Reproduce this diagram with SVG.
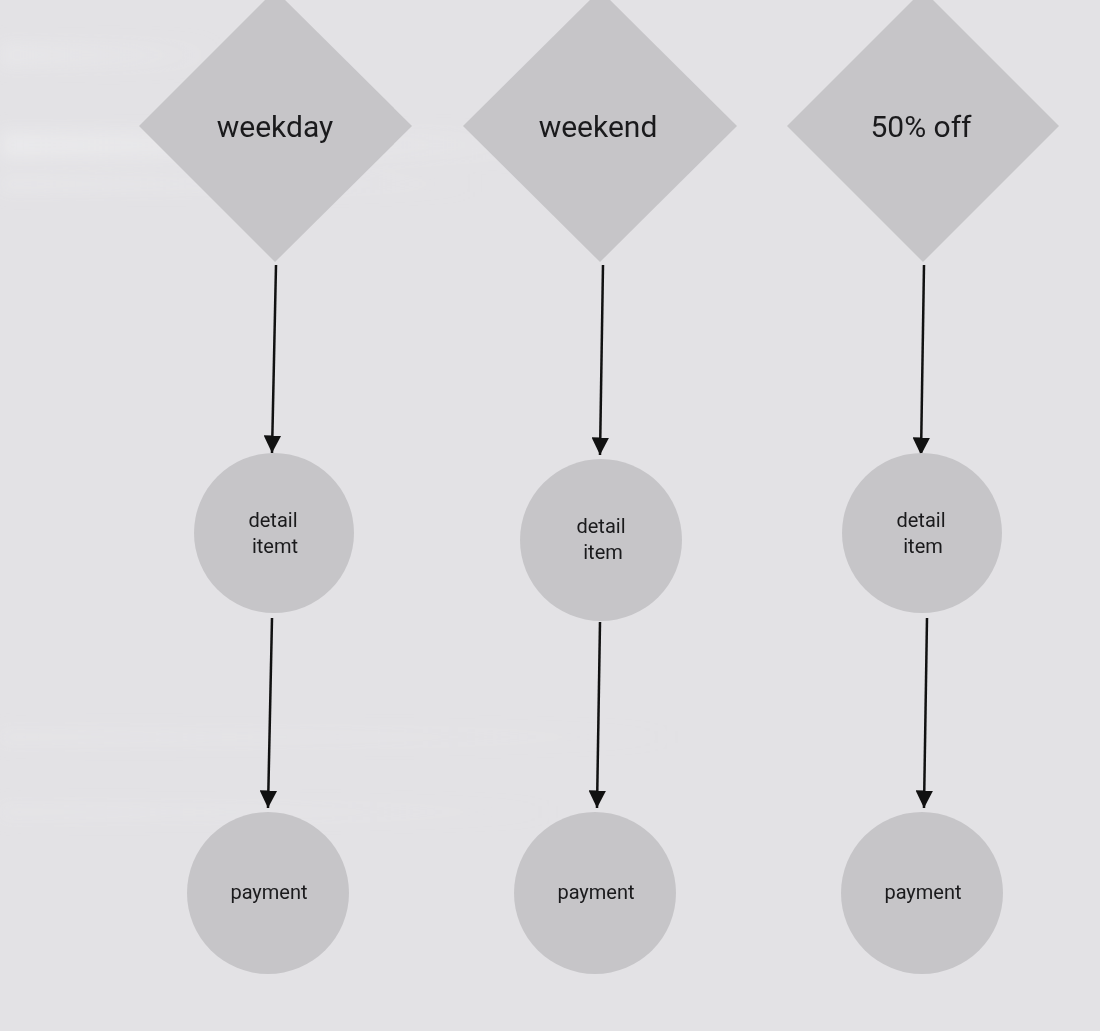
<svg xmlns="http://www.w3.org/2000/svg" width="1100" height="1031" viewBox="0 0 1100 1031">
<defs>
<style>
.shape{fill:#c6c5c8;}
.big{font-family:Roboto,"Liberation Sans",sans-serif;font-size:30px;fill:#1a1a1c;text-anchor:middle;}
.small{font-family:Roboto,"Liberation Sans",sans-serif;font-size:20px;fill:#1a1a1c;text-anchor:middle;}
.conn{stroke:#111;stroke-width:2.5;fill:none;marker-end:url(#ah);}
</style>
<marker id="ah" viewBox="0 0 10 10" refX="10" refY="5" markerWidth="7" markerHeight="7" orient="auto" markerUnits="strokeWidth">
<path d="M0,0 L10,5 L0,10 z" fill="#111"/>
</marker>
<linearGradient id="streak" x1="0" y1="0" x2="1" y2="0">
<stop offset="0" stop-color="#f0f0f2" stop-opacity="0.7"/>
<stop offset="0.6" stop-color="#f0f0f2" stop-opacity="0.35"/>
<stop offset="1" stop-color="#f0f0f2" stop-opacity="0"/>
</linearGradient>
<filter id="soft" x="-10%" y="-100%" width="120%" height="300%">
<feGaussianBlur stdDeviation="8"/>
</filter>
</defs>
<rect width="1100" height="1031" fill="#e3e2e5"/>
<g id="background" filter="url(#soft)">
<rect x="0" y="42" width="220" height="26" fill="url(#streak)" opacity="0.5"/>
<rect x="0" y="130" width="560" height="30" fill="url(#streak)" opacity="0.7"/>
<rect x="0" y="176" width="480" height="16" fill="url(#streak)" opacity="0.5"/>
<rect x="0" y="730" width="680" height="14" fill="url(#streak)" opacity="0.35"/>
<rect x="0" y="805" width="560" height="14" fill="url(#streak)" opacity="0.35"/>
</g>
<g id="connectors">
<line class="conn" x1="276" y1="265" x2="272" y2="453"/>
<line class="conn" x1="272" y1="618" x2="268" y2="808"/>
<line class="conn" x1="603" y1="265" x2="600" y2="455"/>
<line class="conn" x1="600" y1="622" x2="597" y2="808"/>
<line class="conn" x1="924" y1="265" x2="921" y2="455"/>
<line class="conn" x1="927" y1="618" x2="924" y2="808"/>
</g>
<g id="weekday">
<polygon class="shape" points="275,-10 412,126 275,262 139,126"/>
<text class="big" x="275" y="137">weekday</text>
</g>
<g id="weekend">
<polygon class="shape" points="600,-10 737,126 600,262 463,126"/>
<text class="big" x="598" y="137">weekend</text>
</g>
<g id="off50">
<polygon class="shape" points="923,-10 1059,126 923,262 787,126"/>
<text class="big" x="921" y="137">50% off</text>
</g>
<g id="detail1">
<circle class="shape" cx="274" cy="533" r="80"/>
<text class="small" x="273" y="527">detail</text>
<text class="small" x="275" y="553">itemt</text>
</g>
<g id="detail2">
<circle class="shape" cx="601" cy="540" r="81"/>
<text class="small" x="601" y="533">detail</text>
<text class="small" x="603" y="559">item</text>
</g>
<g id="detail3">
<circle class="shape" cx="922" cy="533" r="80"/>
<text class="small" x="921" y="527">detail</text>
<text class="small" x="923" y="553">item</text>
</g>
<g id="payment1">
<circle class="shape" cx="268" cy="893" r="81"/>
<text class="small" x="269" y="899">payment</text>
</g>
<g id="payment2">
<circle class="shape" cx="595" cy="893" r="81"/>
<text class="small" x="596" y="899">payment</text>
</g>
<g id="payment3">
<circle class="shape" cx="922" cy="893" r="81"/>
<text class="small" x="923" y="899">payment</text>
</g>
</svg>
